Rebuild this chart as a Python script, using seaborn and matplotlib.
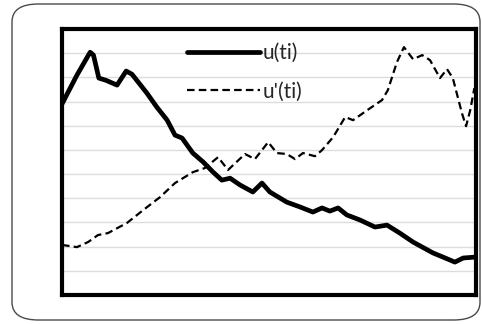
import matplotlib
matplotlib.use("Agg")
import matplotlib.pyplot as plt
from matplotlib.patches import FancyBboxPatch
import numpy as np
import pandas as pd
import seaborn as sns

# u(ti) - solid line
u_x = [0.0, 3.6, 6.8, 7.6, 8.9, 10.6, 13.3, 15.5, 16.9, 20.5, 22.9, 25.4, 27.3, 29.0,
       31.6, 34.1, 36.5, 38.6, 40.6, 43.0, 46.1, 48.3, 50.2, 54.3, 57.5, 60.6, 62.8,
       64.7, 66.7, 68.8, 72.0, 75.6, 78.5, 81.6, 84.8, 89.6, 92.0, 94.9, 96.9, 100.0]
u_y = [7.9, 9.09, 10.04, 9.92, 8.97, 8.88, 8.68, 9.26, 9.13, 8.35, 7.77, 7.23, 6.61, 6.49,
       5.87, 5.50, 5.08, 4.75, 4.83, 4.55, 4.26, 4.63, 4.26, 3.84, 3.64, 3.43, 3.60,
       3.47, 3.60, 3.31, 3.10, 2.81, 2.89, 2.56, 2.19, 1.74, 1.57, 1.36, 1.53, 1.57]

# u'(ti) - dashed line
du_x = [0.0, 3.6, 6.3, 8.7, 11.1, 15.7, 19.6, 23.7, 27.3, 31.6, 34.5, 37.7, 40.1, 44.2,
        46.6, 49.8, 51.9, 54.3, 56.3, 58.2, 61.1, 62.8, 65.5, 68.4, 70.3, 73.7, 77.3,
        78.7, 80.9, 82.6, 84.8, 87.0, 88.9, 91.3, 93.0, 94.4, 96.6, 97.6, 98.6, 99.6]
du_y = [2.07, 1.98, 2.19, 2.48, 2.56, 2.98, 3.51, 4.05, 4.63, 5.08, 5.25, 5.70, 5.17, 5.83,
        5.62, 6.32, 5.87, 5.83, 5.62, 5.87, 5.74, 5.99, 6.53, 7.36, 7.23, 7.64, 8.06,
        8.47, 9.63, 10.25, 9.75, 9.92, 9.71, 8.97, 9.34, 8.97, 7.52, 6.98, 7.64, 8.55]

labels = ["u(ti)", "u'(ti)"]

sns.set_style("white")
plt.rcParams["font.family"] = ["Lato", "DejaVu Sans"]

fig = plt.figure(figsize=(4.82, 3.24), dpi=100)

# rounded outer box
box = FancyBboxPatch((12 / 482, 4 / 324), 468 / 482, 316 / 324,
                     boxstyle="round,pad=0,rounding_size=0.055",
                     transform=fig.transFigure, facecolor="white",
                     edgecolor="#4a4a4a", linewidth=1.0, zorder=-5)
fig.patches.append(box)

ax = fig.add_axes([62 / 482, (324 - 295) / 324, 414 / 482, 266 / 324])
ax.set_facecolor("none")
ax.set_zorder(2)

df_u = pd.DataFrame({"x": u_x, "y": u_y})
df_du = pd.DataFrame({"x": du_x, "y": du_y})

sns.lineplot(data=df_u, x="x", y="y", ax=ax, color="black", linewidth=3.4,
             label=labels[0], solid_joinstyle="round", solid_capstyle="round")
sns.lineplot(data=df_du, x="x", y="y", ax=ax, color="black", linewidth=1.6,
             linestyle=(0, (3.4, 1.9)), label=labels[1])

ax.set_xlim(0, 100)
ax.set_ylim(0, 11)
ax.set_yticks(np.arange(1, 11))
ax.set_xticks([])
ax.grid(True, axis="y", color="#dcdcdc", linewidth=1.0)
ax.tick_params(left=False, labelleft=False, bottom=False, labelbottom=False)
ax.set_xlabel("")
ax.set_ylabel("")
for s in ax.spines.values():
    s.set_color("black")
    s.set_linewidth(3.0)

ax.legend(loc="upper left", bbox_to_anchor=(0.302, 0.948), frameon=False,
          fontsize=15, handlelength=3.5, handletextpad=0.15, borderpad=0,
          labelspacing=0.9, borderaxespad=0)

fig.savefig("out.png", dpi=100)
